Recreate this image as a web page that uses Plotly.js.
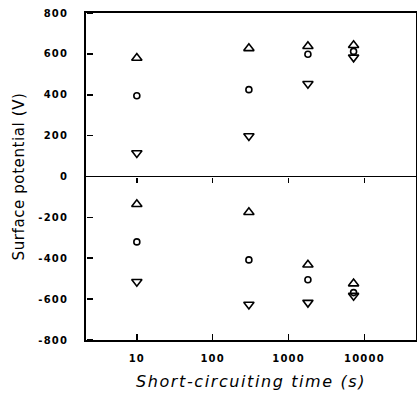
<!DOCTYPE html>
<html>
<head>
<meta charset="utf-8">
<script src="https://cdn.plot.ly/plotly-3.0.1.min.js"></script>
<style>
html,body{margin:0;padding:0;background:#fff;overflow:hidden}
#chart{width:417px;height:394px}
.xtick text,.ytick text{letter-spacing:1.2px}
.g-xtitle text{letter-spacing:1.6px}
.g-ytitle text{letter-spacing:0.6px}
</style>
</head>
<body>
<div id="chart"></div>
<script>
// Short-circuiting time (s)
const times = [10, 300, 1800, 7200];
// Surface potential (V), positive and negative charging
const triUpPos   = [580, 627, 637, 642];
const circlePos  = [395, 425, 598, 612];
const triDownPos = [115, 198, 454, 583];
const triUpNeg   = [-136, -175, -432, -524];
const circleNeg  = [-320, -408, -505, -568];
const triDownNeg = [-515, -626, -617, -583];

const yTicks = [800, 600, 400, 200, 0, -200, -400, -600, -800];
const yTickText = ['800', '600', '400', '200', '0', '-200', '-400', '-600', '-800'];
const xTicks = [10, 100, 1000, 10000];
const xTickText = ['10', '100', '1000', '10000'];

const xs = times.concat(times);
function mk(y, sym, size) {
  return {
    x: xs, y: y, type: 'scatter', mode: 'markers', showlegend: false,
    marker: {symbol: sym, size: size, color: '#000', line: {color: '#000', width: 1.6}}
  };
}
const data = [
  mk(triUpPos.concat(triUpNeg), 'triangle-up-open', 9),
  mk(circlePos.concat(circleNeg), 'circle-open', 6),
  mk(triDownPos.concat(triDownNeg), 'triangle-down-open', 9),
  {x: [], y: [], xaxis: 'x2', yaxis: 'y', type: 'scatter', showlegend: false},
  {x: [], y: [], xaxis: 'x3', yaxis: 'y', type: 'scatter', showlegend: false},
  {x: [], y: [], xaxis: 'x', yaxis: 'y2', type: 'scatter', showlegend: false}
];
const tickFont = {family: 'DejaVu Sans', size: 10, color: '#000', weight: 'bold'};
const xRange = [0.33, 4.68];
const yRange = [-800, 800];
const tickStyle = {ticklen: 6, tickwidth: 1.6, tickcolor: '#000', showline: false, showgrid: false, zeroline: false, showticklabels: false};
const layout = {
  width: 417, height: 394,
  margin: {l: 86, r: 1, t: 13, b: 54},
  paper_bgcolor: '#fff', plot_bgcolor: '#fff',
  xaxis: {
    type: 'log', range: xRange,
    tickvals: xTicks, ticktext: xTickText, ticks: '',
    showline: true, linecolor: '#000', linewidth: 1.8, mirror: true,
    showgrid: false, zeroline: false,
    tickfont: tickFont, ticklabelstandoff: 8,
    title: {text: 'Short-circuiting time (s)', font: {family: 'DejaVu Sans', size: 16, style: 'italic', color: '#000'}, standoff: 13}
  },
  // tick marks hanging below the zero line
  xaxis2: Object.assign({
    type: 'log', range: xRange, overlaying: 'x', anchor: 'free', position: 0.5, side: 'bottom',
    tickvals: xTicks, ticks: 'outside'
  }, tickStyle, {ticklen: 5}),
  // tick marks pointing up from the bottom axis
  xaxis3: Object.assign({
    type: 'log', range: xRange, overlaying: 'x', anchor: 'free', position: 0, side: 'top',
    tickvals: xTicks, ticks: 'outside'
  }, tickStyle),
  yaxis: {
    range: yRange,
    tickvals: yTicks, ticktext: yTickText, ticks: '',
    showline: true, linecolor: '#000', linewidth: 1.8, mirror: true,
    showgrid: false, zeroline: true, zerolinecolor: '#000', zerolinewidth: 1.8,
    tickfont: tickFont, ticklabelstandoff: 14,
    title: {text: 'Surface potential (V)', font: {family: 'DejaVu Sans', size: 15, color: '#000'}, standoff: 10}
  },
  // tick marks pointing right from the left axis
  yaxis2: Object.assign({
    range: yRange, overlaying: 'y', anchor: 'free', position: 0, side: 'right',
    tickvals: yTicks, ticks: 'outside'
  }, tickStyle)
};
Plotly.newPlot('chart', data, layout, {displayModeBar: false, staticPlot: true});
</script>
</body>
</html>
